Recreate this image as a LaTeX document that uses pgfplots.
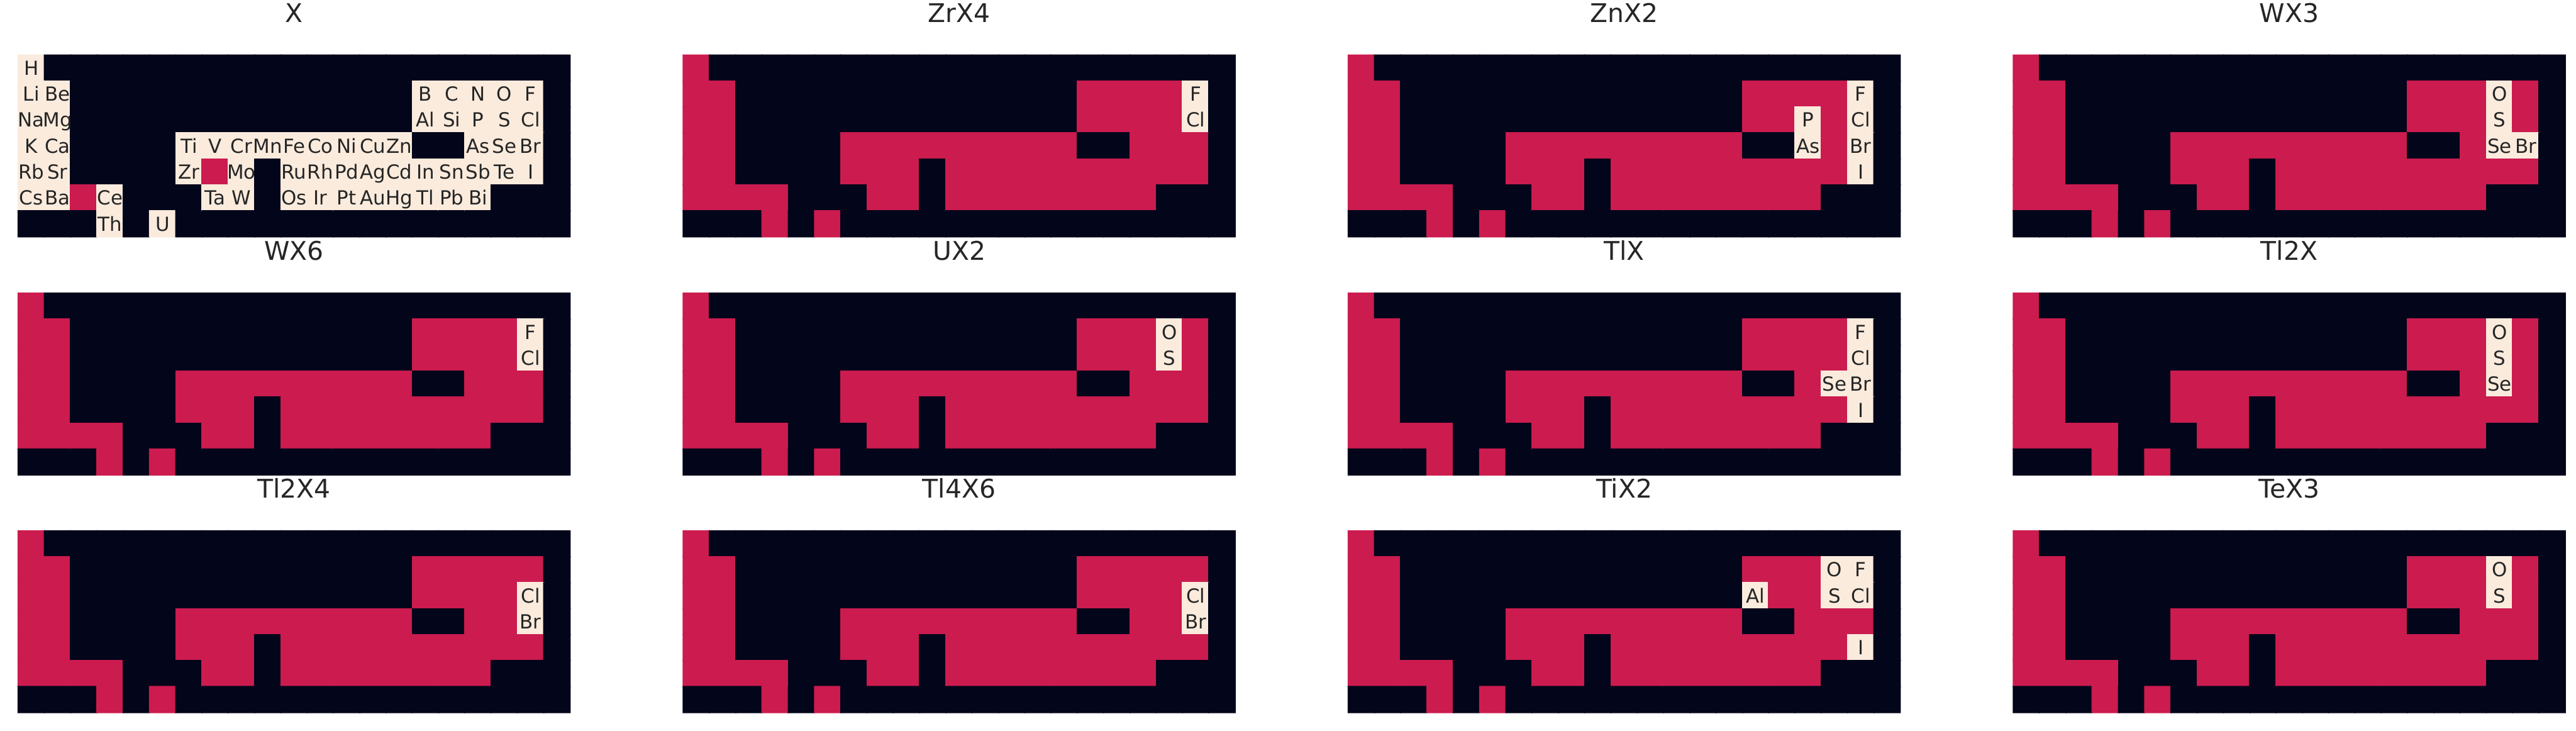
\documentclass[border=0pt]{standalone}
\usepackage{fontspec}
\setmainfont{DejaVu Sans}
\usepackage{pgfplots}
\pgfplotsset{compat=1.18}
\definecolor{txt}{HTML}{262626}
\pgfplotsset{
  panel/.style={
    scale only axis, width=184.5pt, height=60.74pt,
    anchor=north west,
    xmin=-0.5, xmax=20.5, ymin=-0.5, ymax=6.5,
    y dir=reverse, hide axis, clip=false,
    colormap={rocket3}{rgb255=(3,5,26) rgb255=(203,27,79) rgb255=(250,235,221)},
    point meta min=0, point meta max=2,
    title style={at={(0.5,1)}, anchor=base, yshift=5pt, font=\fontsize{8.6}{10}\selectfont, text=txt},
  },
  grid/.style={matrix plot*, mesh/cols=21, point meta=explicit},
  table/gridtab/.style={x expr={\coordindex-21*floor((\coordindex+0.5)/21)}, y expr={floor((\coordindex+0.5)/21)}, header=false, meta index=0, row sep=\\},
  lbl/.style={only marks, mark=none, point meta=explicit symbolic, nodes near coords, nodes near coords align={center},
    every node near coord/.append style={font=\fontsize{6.5}{7.5}\selectfont, text=txt, inner sep=0pt, text height=4.74pt, text depth=0pt, anchor=center}},
}
\begin{document}
\begin{tikzpicture}
\path[use as bounding box] (0,0) rectangle (861.2pt,244.2pt);
% ---------------- X
\begin{axis}[panel, at={(6.06pt,225.8pt)}, title={X}]
\addplot[grid] table[gridtab]{
2\\0\\0\\0\\0\\0\\0\\0\\0\\0\\0\\0\\0\\0\\0\\0\\0\\0\\0\\0\\0\\
2\\2\\0\\0\\0\\0\\0\\0\\0\\0\\0\\0\\0\\0\\0\\2\\2\\2\\2\\2\\0\\
2\\2\\0\\0\\0\\0\\0\\0\\0\\0\\0\\0\\0\\0\\0\\2\\2\\2\\2\\2\\0\\
2\\2\\0\\0\\0\\0\\2\\2\\2\\2\\2\\2\\2\\2\\2\\0\\0\\2\\2\\2\\0\\
2\\2\\0\\0\\0\\0\\2\\1\\2\\0\\2\\2\\2\\2\\2\\2\\2\\2\\2\\2\\0\\
2\\2\\1\\2\\0\\0\\0\\2\\2\\0\\2\\2\\2\\2\\2\\2\\2\\2\\0\\0\\0\\
0\\0\\0\\2\\0\\2\\0\\0\\0\\0\\0\\0\\0\\0\\0\\0\\0\\0\\0\\0\\0\\
};
\addplot[lbl] coordinates {
(0,0)[H]
(0,1)[Li] (1,1)[Be] (15,1)[B] (16,1)[C] (17,1)[N] (18,1)[O] (19,1)[F]
(0,2)[Na] (1,2)[Mg] (15,2)[Al] (16,2)[Si] (17,2)[P] (18,2)[S] (19,2)[Cl]
(0,3)[K] (1,3)[Ca] (6,3)[Ti] (7,3)[V] (8,3)[Cr] (9,3)[Mn] (10,3)[Fe] (11,3)[Co] (12,3)[Ni] (13,3)[Cu] (14,3)[Zn] (17,3)[As] (18,3)[Se] (19,3)[Br]
(0,4)[Rb] (1,4)[Sr] (6,4)[Zr] (8,4)[Mo] (10,4)[Ru] (11,4)[Rh] (12,4)[Pd] (13,4)[Ag] (14,4)[Cd] (15,4)[In] (16,4)[Sn] (17,4)[Sb] (18,4)[Te] (19,4)[I]
(0,5)[Cs] (1,5)[Ba] (3,5)[Ce] (7,5)[Ta] (8,5)[W] (10,5)[Os] (11,5)[Ir] (12,5)[Pt] (13,5)[Au] (14,5)[Hg] (15,5)[Tl] (16,5)[Pb] (17,5)[Bi]
(3,6)[Th] (5,6)[U]
};
\end{axis}
% ---------------- ZrX4
\begin{axis}[panel, at={(228.40pt,225.8pt)}, title={ZrX4}]
\addplot[grid] table[gridtab]{
1\\0\\0\\0\\0\\0\\0\\0\\0\\0\\0\\0\\0\\0\\0\\0\\0\\0\\0\\0\\0\\
1\\1\\0\\0\\0\\0\\0\\0\\0\\0\\0\\0\\0\\0\\0\\1\\1\\1\\1\\2\\0\\
1\\1\\0\\0\\0\\0\\0\\0\\0\\0\\0\\0\\0\\0\\0\\1\\1\\1\\1\\2\\0\\
1\\1\\0\\0\\0\\0\\1\\1\\1\\1\\1\\1\\1\\1\\1\\0\\0\\1\\1\\1\\0\\
1\\1\\0\\0\\0\\0\\1\\1\\1\\0\\1\\1\\1\\1\\1\\1\\1\\1\\1\\1\\0\\
1\\1\\1\\1\\0\\0\\0\\1\\1\\0\\1\\1\\1\\1\\1\\1\\1\\1\\0\\0\\0\\
0\\0\\0\\1\\0\\1\\0\\0\\0\\0\\0\\0\\0\\0\\0\\0\\0\\0\\0\\0\\0\\
};
\addplot[lbl] coordinates {(19,1)[F] (19,2)[Cl]};
\end{axis}
% ---------------- ZnX2
\begin{axis}[panel, at={(450.74pt,225.8pt)}, title={ZnX2}]
\addplot[grid] table[gridtab]{
1\\0\\0\\0\\0\\0\\0\\0\\0\\0\\0\\0\\0\\0\\0\\0\\0\\0\\0\\0\\0\\
1\\1\\0\\0\\0\\0\\0\\0\\0\\0\\0\\0\\0\\0\\0\\1\\1\\1\\1\\2\\0\\
1\\1\\0\\0\\0\\0\\0\\0\\0\\0\\0\\0\\0\\0\\0\\1\\1\\2\\1\\2\\0\\
1\\1\\0\\0\\0\\0\\1\\1\\1\\1\\1\\1\\1\\1\\1\\0\\0\\2\\1\\2\\0\\
1\\1\\0\\0\\0\\0\\1\\1\\1\\0\\1\\1\\1\\1\\1\\1\\1\\1\\1\\2\\0\\
1\\1\\1\\1\\0\\0\\0\\1\\1\\0\\1\\1\\1\\1\\1\\1\\1\\1\\0\\0\\0\\
0\\0\\0\\1\\0\\1\\0\\0\\0\\0\\0\\0\\0\\0\\0\\0\\0\\0\\0\\0\\0\\
};
\addplot[lbl] coordinates {(19,1)[F] (19,2)[Cl] (19,3)[Br] (19,4)[I] (17,2)[P] (17,3)[As]};
\end{axis}
% ---------------- WX3
\begin{axis}[panel, at={(673.08pt,225.8pt)}, title={WX3}]
\addplot[grid] table[gridtab]{
1\\0\\0\\0\\0\\0\\0\\0\\0\\0\\0\\0\\0\\0\\0\\0\\0\\0\\0\\0\\0\\
1\\1\\0\\0\\0\\0\\0\\0\\0\\0\\0\\0\\0\\0\\0\\1\\1\\1\\2\\1\\0\\
1\\1\\0\\0\\0\\0\\0\\0\\0\\0\\0\\0\\0\\0\\0\\1\\1\\1\\2\\1\\0\\
1\\1\\0\\0\\0\\0\\1\\1\\1\\1\\1\\1\\1\\1\\1\\0\\0\\1\\2\\2\\0\\
1\\1\\0\\0\\0\\0\\1\\1\\1\\0\\1\\1\\1\\1\\1\\1\\1\\1\\1\\1\\0\\
1\\1\\1\\1\\0\\0\\0\\1\\1\\0\\1\\1\\1\\1\\1\\1\\1\\1\\0\\0\\0\\
0\\0\\0\\1\\0\\1\\0\\0\\0\\0\\0\\0\\0\\0\\0\\0\\0\\0\\0\\0\\0\\
};
\addplot[lbl] coordinates {(18,1)[O] (18,2)[S] (18,3)[Se] (19,3)[Br]};
\end{axis}
% ---------------- WX6
\begin{axis}[panel, at={(6.06pt,146.2pt)}, title={WX6}]
\addplot[grid] table[gridtab]{
1\\0\\0\\0\\0\\0\\0\\0\\0\\0\\0\\0\\0\\0\\0\\0\\0\\0\\0\\0\\0\\
1\\1\\0\\0\\0\\0\\0\\0\\0\\0\\0\\0\\0\\0\\0\\1\\1\\1\\1\\2\\0\\
1\\1\\0\\0\\0\\0\\0\\0\\0\\0\\0\\0\\0\\0\\0\\1\\1\\1\\1\\2\\0\\
1\\1\\0\\0\\0\\0\\1\\1\\1\\1\\1\\1\\1\\1\\1\\0\\0\\1\\1\\1\\0\\
1\\1\\0\\0\\0\\0\\1\\1\\1\\0\\1\\1\\1\\1\\1\\1\\1\\1\\1\\1\\0\\
1\\1\\1\\1\\0\\0\\0\\1\\1\\0\\1\\1\\1\\1\\1\\1\\1\\1\\0\\0\\0\\
0\\0\\0\\1\\0\\1\\0\\0\\0\\0\\0\\0\\0\\0\\0\\0\\0\\0\\0\\0\\0\\
};
\addplot[lbl] coordinates {(19,1)[F] (19,2)[Cl]};
\end{axis}
% ---------------- UX2
\begin{axis}[panel, at={(228.40pt,146.2pt)}, title={UX2}]
\addplot[grid] table[gridtab]{
1\\0\\0\\0\\0\\0\\0\\0\\0\\0\\0\\0\\0\\0\\0\\0\\0\\0\\0\\0\\0\\
1\\1\\0\\0\\0\\0\\0\\0\\0\\0\\0\\0\\0\\0\\0\\1\\1\\1\\2\\1\\0\\
1\\1\\0\\0\\0\\0\\0\\0\\0\\0\\0\\0\\0\\0\\0\\1\\1\\1\\2\\1\\0\\
1\\1\\0\\0\\0\\0\\1\\1\\1\\1\\1\\1\\1\\1\\1\\0\\0\\1\\1\\1\\0\\
1\\1\\0\\0\\0\\0\\1\\1\\1\\0\\1\\1\\1\\1\\1\\1\\1\\1\\1\\1\\0\\
1\\1\\1\\1\\0\\0\\0\\1\\1\\0\\1\\1\\1\\1\\1\\1\\1\\1\\0\\0\\0\\
0\\0\\0\\1\\0\\1\\0\\0\\0\\0\\0\\0\\0\\0\\0\\0\\0\\0\\0\\0\\0\\
};
\addplot[lbl] coordinates {(18,1)[O] (18,2)[S]};
\end{axis}
% ---------------- TlX
\begin{axis}[panel, at={(450.74pt,146.2pt)}, title={TlX}]
\addplot[grid] table[gridtab]{
1\\0\\0\\0\\0\\0\\0\\0\\0\\0\\0\\0\\0\\0\\0\\0\\0\\0\\0\\0\\0\\
1\\1\\0\\0\\0\\0\\0\\0\\0\\0\\0\\0\\0\\0\\0\\1\\1\\1\\1\\2\\0\\
1\\1\\0\\0\\0\\0\\0\\0\\0\\0\\0\\0\\0\\0\\0\\1\\1\\1\\1\\2\\0\\
1\\1\\0\\0\\0\\0\\1\\1\\1\\1\\1\\1\\1\\1\\1\\0\\0\\1\\2\\2\\0\\
1\\1\\0\\0\\0\\0\\1\\1\\1\\0\\1\\1\\1\\1\\1\\1\\1\\1\\1\\2\\0\\
1\\1\\1\\1\\0\\0\\0\\1\\1\\0\\1\\1\\1\\1\\1\\1\\1\\1\\0\\0\\0\\
0\\0\\0\\1\\0\\1\\0\\0\\0\\0\\0\\0\\0\\0\\0\\0\\0\\0\\0\\0\\0\\
};
\addplot[lbl] coordinates {(19,1)[F] (19,2)[Cl] (19,3)[Br] (19,4)[I] (18,3)[Se]};
\end{axis}
% ---------------- Tl2X
\begin{axis}[panel, at={(673.08pt,146.2pt)}, title={Tl2X}]
\addplot[grid] table[gridtab]{
1\\0\\0\\0\\0\\0\\0\\0\\0\\0\\0\\0\\0\\0\\0\\0\\0\\0\\0\\0\\0\\
1\\1\\0\\0\\0\\0\\0\\0\\0\\0\\0\\0\\0\\0\\0\\1\\1\\1\\2\\1\\0\\
1\\1\\0\\0\\0\\0\\0\\0\\0\\0\\0\\0\\0\\0\\0\\1\\1\\1\\2\\1\\0\\
1\\1\\0\\0\\0\\0\\1\\1\\1\\1\\1\\1\\1\\1\\1\\0\\0\\1\\2\\1\\0\\
1\\1\\0\\0\\0\\0\\1\\1\\1\\0\\1\\1\\1\\1\\1\\1\\1\\1\\1\\1\\0\\
1\\1\\1\\1\\0\\0\\0\\1\\1\\0\\1\\1\\1\\1\\1\\1\\1\\1\\0\\0\\0\\
0\\0\\0\\1\\0\\1\\0\\0\\0\\0\\0\\0\\0\\0\\0\\0\\0\\0\\0\\0\\0\\
};
\addplot[lbl] coordinates {(18,1)[O] (18,2)[S] (18,3)[Se]};
\end{axis}
% ---------------- Tl2X4
\begin{axis}[panel, at={(6.06pt,66.8pt)}, title={Tl2X4}]
\addplot[grid] table[gridtab]{
1\\0\\0\\0\\0\\0\\0\\0\\0\\0\\0\\0\\0\\0\\0\\0\\0\\0\\0\\0\\0\\
1\\1\\0\\0\\0\\0\\0\\0\\0\\0\\0\\0\\0\\0\\0\\1\\1\\1\\1\\1\\0\\
1\\1\\0\\0\\0\\0\\0\\0\\0\\0\\0\\0\\0\\0\\0\\1\\1\\1\\1\\2\\0\\
1\\1\\0\\0\\0\\0\\1\\1\\1\\1\\1\\1\\1\\1\\1\\0\\0\\1\\1\\2\\0\\
1\\1\\0\\0\\0\\0\\1\\1\\1\\0\\1\\1\\1\\1\\1\\1\\1\\1\\1\\1\\0\\
1\\1\\1\\1\\0\\0\\0\\1\\1\\0\\1\\1\\1\\1\\1\\1\\1\\1\\0\\0\\0\\
0\\0\\0\\1\\0\\1\\0\\0\\0\\0\\0\\0\\0\\0\\0\\0\\0\\0\\0\\0\\0\\
};
\addplot[lbl] coordinates {(19,2)[Cl] (19,3)[Br]};
\end{axis}
% ---------------- Tl4X6
\begin{axis}[panel, at={(228.40pt,66.8pt)}, title={Tl4X6}]
\addplot[grid] table[gridtab]{
1\\0\\0\\0\\0\\0\\0\\0\\0\\0\\0\\0\\0\\0\\0\\0\\0\\0\\0\\0\\0\\
1\\1\\0\\0\\0\\0\\0\\0\\0\\0\\0\\0\\0\\0\\0\\1\\1\\1\\1\\1\\0\\
1\\1\\0\\0\\0\\0\\0\\0\\0\\0\\0\\0\\0\\0\\0\\1\\1\\1\\1\\2\\0\\
1\\1\\0\\0\\0\\0\\1\\1\\1\\1\\1\\1\\1\\1\\1\\0\\0\\1\\1\\2\\0\\
1\\1\\0\\0\\0\\0\\1\\1\\1\\0\\1\\1\\1\\1\\1\\1\\1\\1\\1\\1\\0\\
1\\1\\1\\1\\0\\0\\0\\1\\1\\0\\1\\1\\1\\1\\1\\1\\1\\1\\0\\0\\0\\
0\\0\\0\\1\\0\\1\\0\\0\\0\\0\\0\\0\\0\\0\\0\\0\\0\\0\\0\\0\\0\\
};
\addplot[lbl] coordinates {(19,2)[Cl] (19,3)[Br]};
\end{axis}
% ---------------- TiX2
\begin{axis}[panel, at={(450.74pt,66.8pt)}, title={TiX2}]
\addplot[grid] table[gridtab]{
1\\0\\0\\0\\0\\0\\0\\0\\0\\0\\0\\0\\0\\0\\0\\0\\0\\0\\0\\0\\0\\
1\\1\\0\\0\\0\\0\\0\\0\\0\\0\\0\\0\\0\\0\\0\\1\\1\\1\\2\\2\\0\\
1\\1\\0\\0\\0\\0\\0\\0\\0\\0\\0\\0\\0\\0\\0\\2\\1\\1\\2\\2\\0\\
1\\1\\0\\0\\0\\0\\1\\1\\1\\1\\1\\1\\1\\1\\1\\0\\0\\1\\1\\1\\0\\
1\\1\\0\\0\\0\\0\\1\\1\\1\\0\\1\\1\\1\\1\\1\\1\\1\\1\\1\\2\\0\\
1\\1\\1\\1\\0\\0\\0\\1\\1\\0\\1\\1\\1\\1\\1\\1\\1\\1\\0\\0\\0\\
0\\0\\0\\1\\0\\1\\0\\0\\0\\0\\0\\0\\0\\0\\0\\0\\0\\0\\0\\0\\0\\
};
\addplot[lbl] coordinates {(18,1)[O] (19,1)[F] (15,2)[Al] (18,2)[S] (19,2)[Cl] (19,4)[I]};
\end{axis}
% ---------------- TeX3
\begin{axis}[panel, at={(673.08pt,66.8pt)}, title={TeX3}]
\addplot[grid] table[gridtab]{
1\\0\\0\\0\\0\\0\\0\\0\\0\\0\\0\\0\\0\\0\\0\\0\\0\\0\\0\\0\\0\\
1\\1\\0\\0\\0\\0\\0\\0\\0\\0\\0\\0\\0\\0\\0\\1\\1\\1\\2\\1\\0\\
1\\1\\0\\0\\0\\0\\0\\0\\0\\0\\0\\0\\0\\0\\0\\1\\1\\1\\2\\1\\0\\
1\\1\\0\\0\\0\\0\\1\\1\\1\\1\\1\\1\\1\\1\\1\\0\\0\\1\\1\\1\\0\\
1\\1\\0\\0\\0\\0\\1\\1\\1\\0\\1\\1\\1\\1\\1\\1\\1\\1\\1\\1\\0\\
1\\1\\1\\1\\0\\0\\0\\1\\1\\0\\1\\1\\1\\1\\1\\1\\1\\1\\0\\0\\0\\
0\\0\\0\\1\\0\\1\\0\\0\\0\\0\\0\\0\\0\\0\\0\\0\\0\\0\\0\\0\\0\\
};
\addplot[lbl] coordinates {(18,1)[O] (18,2)[S]};
\end{axis}
\end{tikzpicture}
\end{document}
